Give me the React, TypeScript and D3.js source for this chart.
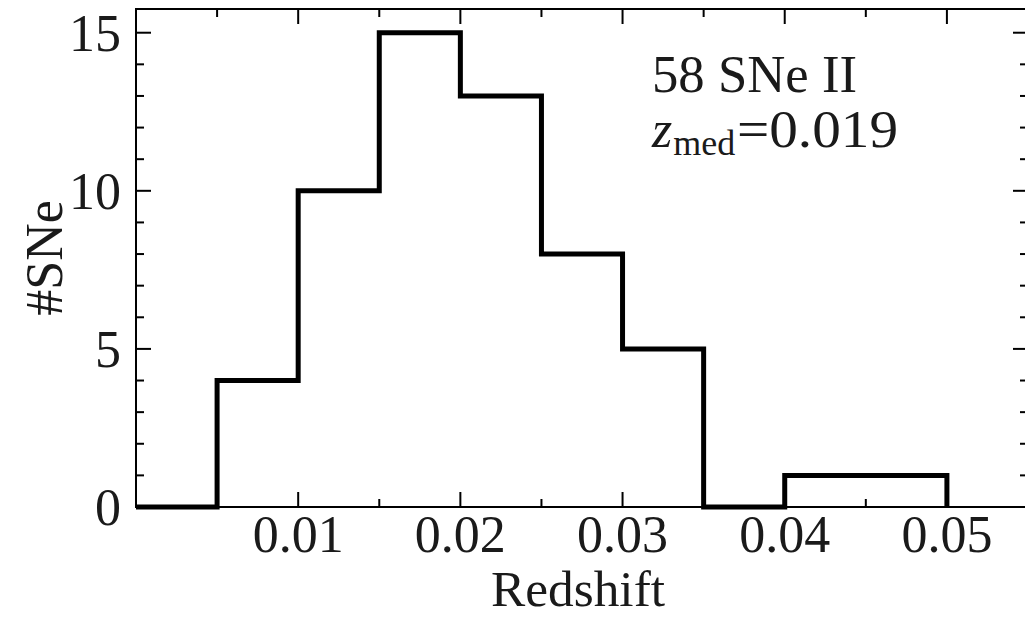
import React from "react";
import * as d3 from "d3";

const binEdges = [0, 0.005, 0.01, 0.015, 0.02, 0.025, 0.03, 0.035, 0.04, 0.045, 0.05];
const binCounts = [0, 4, 10, 15, 13, 8, 5, 0, 1, 1];
const xMajorTicks = [0.01, 0.02, 0.03, 0.04, 0.05];
const xTickLabels = ["0.01", "0.02", "0.03", "0.04", "0.05"];
const yMajorTicks = [0, 5, 10, 15];
const yTickLabels = ["0", "5", "10", "15"];
const annotationTitle = "58 SNe II";
const annotationMedian = "=0.019";

const W = 1025;
const H = 618;
const L = 136;
const T = 9;
const B = 507;
const R = 1028;
const FONT = "'Liberation Serif', 'Times New Roman', serif";
const TXT = "#1a1a1a";

export default function App() {
  const x = d3.scaleLinear().domain([0, 0.055]).range([L, R]);
  const y = d3.scaleLinear().domain([0, 15.75]).range([B, T]);

  const xMinor = d3.range(0.005, 0.0551, 0.005).filter(
    (v) => !xMajorTicks.some((m) => Math.abs(m - v) < 1e-9)
  );
  const yMinor = d3.range(1, 15.5, 1).filter((v) => v % 5 !== 0);

  const pts: [number, number][] = [[binEdges[0], 0]];
  binCounts.forEach((c, i) => {
    pts.push([binEdges[i], c]);
    pts.push([binEdges[i + 1], c]);
  });
  pts.push([binEdges[binEdges.length - 1], 0]);
  const line = d3
    .line<[number, number]>()
    .x((d) => x(d[0]))
    .y((d) => y(d[1]));

  const majLen = 15;
  const minLen = 8;

  return (
    <svg
      width={W}
      height={H}
      style={{ position: "absolute", left: 0, top: 0, background: "#fff" }}
    >
      <defs>
        <clipPath id="plotclip">
          <rect x={L - 3} y={T - 3} width={R - L + 6} height={B - T + 6} />
        </clipPath>
      </defs>
      <rect x={0} y={0} width={W} height={H} fill="#fff" />
      {/* histogram */}
      <path
        d={line(pts) || ""}
        fill="none"
        stroke="#000"
        strokeWidth={5}
        strokeLinejoin="miter"
        clipPath="url(#plotclip)"
      />
      {/* frame */}
      <rect x={L} y={T} width={R - L} height={B - T} fill="none" stroke="#000" strokeWidth={2} />
      {/* x ticks */}
      {xMajorTicks.map((v) => (
        <g key={"xm" + v}>
          <line x1={x(v)} x2={x(v)} y1={B} y2={B - majLen} stroke="#000" strokeWidth={2} />
          <line x1={x(v)} x2={x(v)} y1={T} y2={T + majLen} stroke="#000" strokeWidth={2} />
        </g>
      ))}
      {xMinor.map((v) => (
        <g key={"xn" + v}>
          <line x1={x(v)} x2={x(v)} y1={B} y2={B - minLen} stroke="#000" strokeWidth={2} />
          <line x1={x(v)} x2={x(v)} y1={T} y2={T + minLen} stroke="#000" strokeWidth={2} />
        </g>
      ))}
      {/* y ticks */}
      {yMajorTicks.map((v) => (
        <g key={"ym" + v}>
          <line x1={L} x2={L + majLen} y1={y(v)} y2={y(v)} stroke="#000" strokeWidth={2} />
          <line x1={R} x2={R - majLen} y1={y(v)} y2={y(v)} stroke="#000" strokeWidth={2} />
        </g>
      ))}
      {yMinor.map((v) => (
        <g key={"yn" + v}>
          <line x1={L} x2={L + minLen} y1={y(v)} y2={y(v)} stroke="#000" strokeWidth={2} />
          <line x1={R} x2={R - minLen} y1={y(v)} y2={y(v)} stroke="#000" strokeWidth={2} />
        </g>
      ))}
      {/* x tick labels */}
      {xMajorTicks.map((v, i) => (
        <text
          key={"xl" + v}
          x={x(v)}
          y={552}
          textAnchor="middle"
          fontFamily={FONT}
          fontSize={52}
          fill={TXT}
        >
          {xTickLabels[i]}
        </text>
      ))}
      {/* y tick labels */}
      {yMajorTicks.map((v, i) => (
        <text
          key={"yl" + v}
          x={121}
          y={y(v) + 18}
          textAnchor="end"
          fontFamily={FONT}
          fontSize={52}
          fill={TXT}
        >
          {yTickLabels[i]}
        </text>
      ))}
      {/* axis labels */}
      <text
        x={578}
        y={606}
        textAnchor="middle"
        fontFamily={FONT}
        fontSize={50}
        fill={TXT}
        textLength={174}
        lengthAdjust="spacingAndGlyphs"
      >
        Redshift
      </text>
      <text
        transform={`translate(62, 258) rotate(-90)`}
        textAnchor="middle"
        fontFamily={FONT}
        fontSize={52}
        fill={TXT}
      >
        #SNe
      </text>
      {/* annotation */}
      <text
        x={652}
        y={92}
        fontFamily={FONT}
        fontSize={52}
        fill={TXT}
        textLength={205}
        lengthAdjust="spacingAndGlyphs"
      >
        {annotationTitle}
      </text>
      <text x={652} y={147} fontFamily={FONT} fontSize={52} fill={TXT}>
        <tspan fontStyle="italic">z</tspan>
        <tspan fontSize={36} dy={8} dx={1}>med</tspan>
      </text>
      <text
        x={737}
        y={147}
        fontFamily={FONT}
        fontSize={52}
        fill={TXT}
        textLength={161}
        lengthAdjust="spacingAndGlyphs"
      >
        {annotationMedian}
      </text>
    </svg>
  );
}
